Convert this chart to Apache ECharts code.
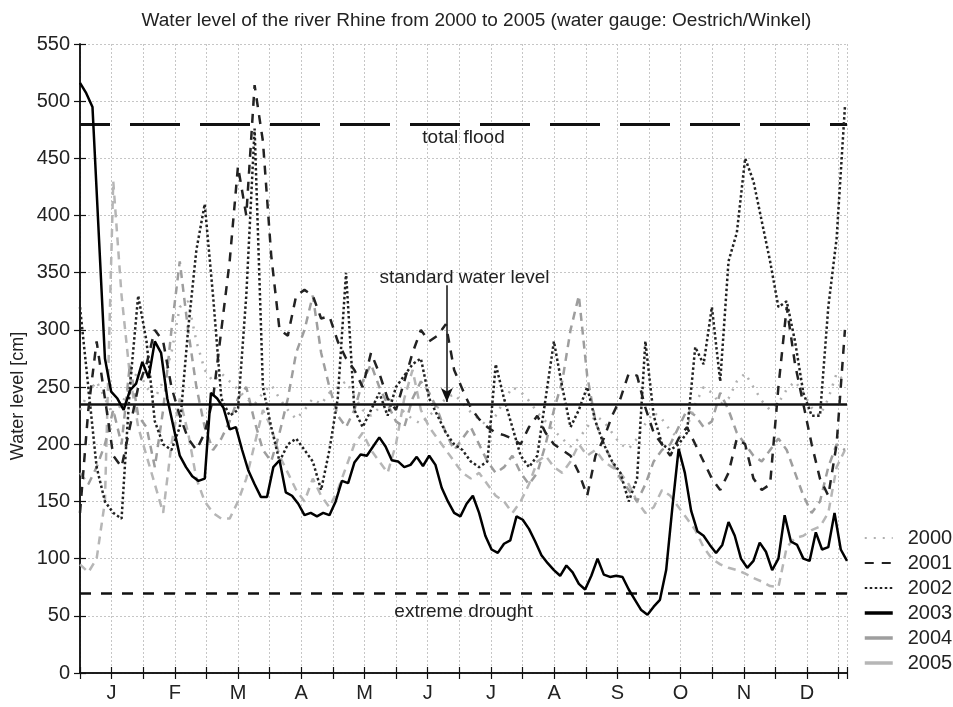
<!DOCTYPE html>
<html><head><meta charset="utf-8">
<script src="https://cdn.jsdelivr.net/npm/echarts/dist/echarts.min.js"></script>
<style>html,body{margin:0;padding:0;background:#fff}#c{width:953px;height:707px}</style>
</head><body><div id="c"></div>
<script>
// ---- data ----
const monthLabels = ['J','F','M','A','M','J','J','A','S','O','N','D'];
const seriesNames = ['2000','2001','2002','2003','2004','2005'];
// sampling step in days
const step2003 = 3;
const stepOther = 4;
const levels2003 = [516,507,495,385,275,246,240,230,247,253,272,258,290,280,240,215,190,180,172,168,170,245,240,232,213,215,195,177,165,154,154,180,186,158,155,148,138,140,137,140,138,150,168,166,184,191,190,198,206,198,186,185,180,182,189,181,190,182,162,150,140,137,148,155,140,120,108,105,113,116,137,134,126,115,103,96,90,85,94,88,78,73,85,100,86,84,85,84,73,64,55,51,58,64,90,145,196,175,142,124,120,112,105,112,132,120,100,92,98,114,106,90,100,138,115,112,100,98,123,108,110,140,108,98];
const levels2002 = [320,250,180,150,140,135,250,330,290,220,200,195,215,300,370,410,330,240,225,230,330,476,250,215,185,200,205,195,185,160,195,240,350,230,215,230,245,225,250,260,270,275,240,225,210,200,195,185,180,185,270,240,215,190,180,190,240,290,250,215,230,250,220,200,185,175,150,170,290,225,200,195,200,210,285,270,320,255,360,385,450,430,395,360,320,325,290,245,225,225,320,380,495];
const levels2001 = [140,230,290,240,190,180,215,250,270,300,290,250,225,205,195,210,240,300,360,443,400,514,465,365,300,295,330,335,330,310,312,290,275,265,250,280,262,240,230,255,280,300,290,295,305,265,248,232,222,215,210,208,205,200,215,225,210,200,195,190,175,155,190,205,225,240,262,260,232,210,200,190,205,215,200,185,170,160,175,205,200,170,160,165,250,320,270,235,200,170,155,200,300];
const levels2000 = [230,245,255,240,225,235,250,265,250,240,255,280,320,325,290,265,255,262,255,248,240,235,245,252,240,230,222,230,240,235,245,250,255,242,230,225,232,240,236,228,222,218,225,232,240,244,236,228,222,216,225,238,250,246,238,228,220,212,205,198,205,215,225,220,210,200,196,205,218,228,222,212,205,215,235,250,245,235,240,255,262,250,238,230,236,248,255,245,232,225,240,262,255];
const levels2004 = [175,165,180,200,230,200,270,225,215,180,230,300,360,300,250,215,195,205,220,240,250,220,195,185,210,240,280,300,330,280,250,225,215,230,255,270,250,235,220,215,240,255,245,230,210,195,205,215,200,185,175,180,190,175,165,175,200,230,255,300,330,260,220,200,185,170,160,150,165,185,195,200,215,230,225,215,220,245,230,210,200,190,185,195,205,195,175,155,140,150,180,200,195];
const levels2005 = [95,88,100,150,430,330,260,215,190,165,140,200,240,210,170,150,140,135,135,150,170,200,230,215,190,175,160,150,170,155,145,160,180,200,210,195,185,175,200,240,265,230,215,205,195,185,175,170,175,165,155,150,140,150,165,185,190,180,175,185,200,190,195,185,180,175,165,150,140,145,160,155,145,135,125,110,100,95,92,90,87,83,80,76,75,110,118,120,125,128,140,180,195];
// reference levels
const totalFlood = 480, standardLevel = 235, extremeDrought = 70;
// annotation anchors (data units: day, cm)
const arrowDay = 176.5, arrowTop = 339, arrowBottom = 237;
const stdLabelDay = 185, stdLabelLevel = 346;

// ---- chart ----
const FONT = '"Liberation Sans", Arial, sans-serif';
const TICK_STEP = 365 / 24;
const X_MAX = 369;
const toPairs = (vals, step) => vals.map((v, i) => [i * step, v]);
const axisLine = {show: true, lineStyle: {color: '#111', width: 1.5}};
const axisTick = {show: true, inside: true, length: 6, lineStyle: {color: '#111', width: 1.2}};
const grid = {color: '#c6c6c6', width: 1, type: [2, 2]};

function lineSeries(name, vals, step, ls, z) {
  return {name, type: 'line', data: toPairs(vals, step), symbol: 'none', showSymbol: false,
    color: ls.color, lineStyle: ls, z, silent: true, animation: false, emphasis: {disabled: true}};
}

const chart = echarts.init(document.getElementById('c'), null, {renderer: 'canvas'});
chart.setOption({
  animation: false,
  backgroundColor: '#fff',
  textStyle: {fontFamily: FONT},
  title: {text: 'Water level of the river Rhine from 2000 to 2005 (water gauge: Oestrich/Winkel)',
    left: 'center', top: 6, textStyle: {fontFamily: FONT, fontSize: 19, fontWeight: 'normal', color: '#222'}},
  grid: {left: 80, right: 106, top: 44, bottom: 34, containLabel: false},
  legend: {orient: 'vertical', left: 858, top: 523, itemWidth: 28, itemHeight: 14, itemGap: 5,
    selectedMode: false,
    itemStyle: {opacity: 0, borderWidth: 0},
    textStyle: {fontFamily: FONT, fontSize: 20, color: '#222', lineHeight: 20, padding: [0, 0, 0, 10]},
    data: [
      {name: '2000'}, {name: '2001'}, {name: '2002'}, {name: '2003', lineStyle: {width: 3.5}},
      {name: '2004', lineStyle: {type: 'solid', width: 3.5}}, {name: '2005', lineStyle: {type: 'solid', width: 3.5}}
    ]},
  xAxis: [
    {type: 'value', min: 0, max: X_MAX, interval: TICK_STEP, position: 'bottom',
      axisLine, axisTick,
      axisLabel: {show: true, fontSize: 20, color: '#222', margin: 10, fontFamily: FONT,
        showMinLabel: true, showMaxLabel: true, hideOverlap: false,
        formatter: v => { const k = Math.round(v / TICK_STEP); return (k % 2 === 1 && k <= 23) ? monthLabels[(k - 1) / 2] : ''; }},
      splitLine: {show: true, lineStyle: grid}},
    {type: 'value', min: 0, max: X_MAX, interval: TICK_STEP, position: 'top',
      axisLine, axisTick, axisLabel: {show: false}, splitLine: {show: false}}
  ],
  yAxis: [
    {type: 'value', min: 0, max: 550, interval: 50, position: 'left',
      axisLine, axisTick,
      axisLabel: {fontSize: 20, color: '#222', margin: 10, fontFamily: FONT},
      splitLine: {show: true, lineStyle: grid}},
    {type: 'value', min: 0, max: 550, interval: 50, position: 'right',
      axisLine, axisTick, axisLabel: {show: false}, splitLine: {show: false}}
  ],
  graphic: [{type: 'text', x: 18, y: 396, rotation: Math.PI / 2,
    style: {text: 'Water level [cm]', font: '18px ' + FONT, fill: '#222', align: 'center', verticalAlign: 'middle'}}],
  series: [
    lineSeries('2005', levels2005, stepOther, {color: '#b6b6b6', width: 2.5, type: [8, 6]}, 2),
    lineSeries('2004', levels2004, stepOther, {color: '#9e9e9e', width: 2.5, type: [8, 6]}, 3),
    lineSeries('2000', levels2000, stepOther, {color: '#b0b0b0', width: 2.5, type: [2, 7]}, 4),
    lineSeries('2001', levels2001, stepOther, {color: '#222', width: 2.5, type: [9, 8]}, 5),
    lineSeries('2002', levels2002, stepOther, {color: '#222', width: 2.5, type: [2.5, 2.5]}, 6),
    lineSeries('2003', levels2003, step2003, {color: '#000', width: 2.5, type: 'solid'}, 7),
    {name: 'reference', type: 'line', data: [], z: 8, silent: true,
      markLine: {silent: true, animation: false, symbol: ['none', 'none'],
        lineStyle: {color: '#111', width: 1.5, type: 'solid'},
        label: {show: false},
        data: [
          {yAxis: totalFlood, lineStyle: {color: '#111', width: 3, type: [50, 20], dashOffset: 20},
            label: {show: true, position: 'insideMiddleBottom', formatter: 'total flood', fontSize: 19, color: '#222', distance: 4, fontFamily: FONT}},
          {yAxis: standardLevel, lineStyle: {color: '#111', width: 2.5, type: 'solid'}, label: {show: false}},
          {yAxis: extremeDrought, lineStyle: {color: '#111', width: 2.5, type: [11, 10]},
            label: {show: true, position: 'insideMiddleBottom', formatter: 'extreme drought', fontSize: 19, color: '#222', distance: 9, fontFamily: FONT}},
          [{coord: [arrowDay, arrowTop], symbol: 'none', lineStyle: {color: '#111', width: 1.5, type: 'solid'}},
           {coord: [arrowDay, arrowBottom], symbol: 'arrow', symbolSize: [9, 14]}]
        ]},
      markPoint: {silent: true, animation: false, symbol: 'circle', symbolSize: 0,
        data: [{coord: [stdLabelDay, stdLabelLevel],
          label: {show: true, position: 'inside', formatter: 'standard water level', fontSize: 19, color: '#222', fontFamily: FONT}}]}
    }
  ]
});
</script>
</body></html>
